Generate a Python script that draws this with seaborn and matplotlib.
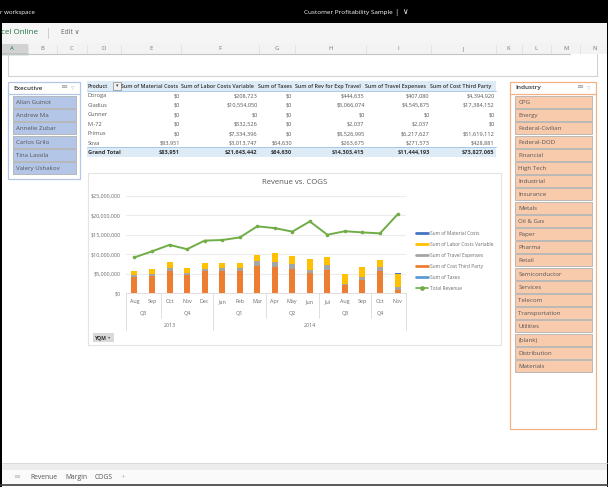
import pandas as pd
import numpy as np
from matplotlib import pyplot as plt
from matplotlib.lines import Line2D
import seaborn as sns

sns.set_theme(style='white')
plt.rcParams['font.family'] = ['Open Sans', 'DejaVu Sans']

plt.figure(figsize=(6.08, 4.87), dpi=100)

# page behind the chart, in screen pixels
page = plt.axes([0, 0, 1, 1])
page.set_xlim(0, 608)
page.set_ylim(487, 0)
page.axis('off')

def box(x0, y0, x1, y1, color, edge='none', lw=0.6):
    page.add_patch(plt.Rectangle((x0, y0), x1 - x0, y1 - y0, facecolor=color, edgecolor=edge, linewidth=lw))

def slicer(x0, x1, y1, title, names, color, edge):
    box(x0, 81.5, x1, y1, 'white', edge, 0.9)
    page.plot([x0, x1], [94, 94], color=edge, lw=0.9)
    plt.text(x0 + 5, 88, title, size=4.6, weight='semibold', color='#333333', va='center')
    plt.text(x1 - 20, 88, '≡', size=6, color='#999999', va='center')
    plt.text(x1 - 9, 88, '▿', size=5, color='#c8c8c8', va='center')
    for i, name in enumerate(names):
        box(x0 + 5, 96 + i * 13.2, x1 - 4.5, 108 + i * 13.2, color, '#b0b0b0', 0.6)
        plt.text(x0 + 8, 102.5 + i * 13.2, name, size=4.4, color='#555555', va='center')

box(0, 0, 608, 23, 'black')
plt.text(0, 12.5, 'r workspace', size=4.4, color='white', va='center')
plt.text(304, 12.5, 'Customer Profitability Sample', size=4.55, color='white', va='center')
plt.text(394, 12.5, '|', size=5.5, color='white', va='center')
plt.text(405, 12.5, '∨', size=5.5, color='white', va='center', ha='center')
box(0, 23, 608, 43, '#f5f5f5')
plt.text(1, 33, 'cel Online', size=5.8, color='#217346', va='center')
page.plot([48, 48], [28, 38], color='#cccccc', lw=0.7)
plt.text(61, 33, 'Edit ∨', size=4.8, color='#666666', va='center')

# column letters
box(0, 43, 608, 53.5, '#f3f3f3')
box(2, 44, 28, 53.5, '#d2d2d2')
page.plot([2, 28], [53.5, 53.5], color='#217346', lw=0.9)
letters = {'A': 12, 'B': 42, 'C': 72, 'D': 104, 'E': 151, 'F': 220, 'G': 277, 'H': 331, 'I': 398, 'J': 463, 'K': 508, 'L': 536, 'M': 566, 'N': 595}
for letter, x in letters.items():
    plt.text(x, 48.7, letter, size=4.2, color='#217346' if letter == 'A' else '#777777', ha='center', va='center')
for x in [28, 57, 87, 121, 181, 259, 295, 366, 431, 496, 522, 551, 580]:
    page.plot([x, x], [45, 53], color='#dddddd', lw=0.5)
page.plot([2, 570], [54, 54], color='#c4c4c4', lw=0.8)

# the empty box under the headers
page.plot([8, 8, 597, 597], [54, 75.5, 75.5, 54], color='#d4d4d4', lw=0.8)

slicer(8, 80, 179, 'Executive', ['Allan Guinot', 'Andrew Ma', 'Annelie Zubar', 'Carlos Grilo', 'Tina Lassila', 'Valery Ushakov'], '#b4c6e7', '#b4c6e7')
slicer(510.3, 596.3, 429, 'Industry', ['CPG', 'Energy', 'Federal-Civilian', 'Federal-DOD', 'Financial', 'High Tech', 'Industrial', 'Insurance', 'Metals', 'Oil & Gas', 'Paper', 'Pharma', 'Retail', 'Semiconductor', 'Services', 'Telecom', 'Transportation', 'Utilities', '(blank)', 'Distribution', 'Materials'], '#f8cbad', '#f4b183')

# pivot table
table = pd.DataFrame({
    'Product': ['Doroga', 'Gladius', 'Gunner', 'Mi-72', 'Primus', 'Sova', 'Grand Total'],
    'Sum of Material Costs': ['$0', '$0', '$0', '$0', '$0', '$83,951', '$83,951'],
    'Sum of Labor Costs Variable': ['$208,723', '$10,554,050', '$0', '$532,526', '$7,334,396', '$3,013,747', '$21,643,442'],
    'Sum of Taxes': ['$0', '$0', '$0', '$0', '$0', '$64,630', '$64,630'],
    'Sum of Rev for Exp Travel': ['$444,635', '$5,066,074', '$0', '$2,037', '$8,526,995', '$263,675', '$14,303,415'],
    'Sum of Travel Expenses': ['$407,080', '$4,545,875', '$0', '$2,037', '$6,217,627', '$271,573', '$11,444,193'],
    'Sum of Cost Third Party': ['$4,394,920', '$17,384,152', '$0', '$0', '$51,619,112', '$428,881', '$73,827,065'],
})
right_head = [178.6, 254, 292, 361.3, 426.3, 491.7]
right_vals = [180, 257.7, 292, 364.7, 429.7, 494.7]
rows = [95.7, 105.2, 114.6, 124.2, 133.8, 143.4, 152.3]

box(87, 81, 495.7, 91, '#ddebf7')
page.plot([87, 495.7], [91, 91], color='#9dc3e6', lw=0.6)
box(87, 146.7, 495.7, 156.5, '#ddebf7')
page.plot([87, 495.7], [146.7, 146.7], color='#9dc3e6', lw=0.6)
plt.text(88, 86.3, 'Product', size=3.85, weight='semibold', color='#333333', va='center')
box(113, 82, 120.5, 90, '#f2f2f2', '#8c8c8c', 0.5)
plt.text(116.8, 86, '▾', size=3.6, color='#444444', ha='center', va='center')
for c, col in enumerate(table.columns[1:]):
    plt.text(right_head[c], 86.3, col, size=3.85, weight='semibold', color='#333333', ha='right', va='center')
for r, y in enumerate(rows):
    total = table['Product'][r] == 'Grand Total'
    plt.text(88, y, table['Product'][r], size=4.1, color='#333333' if total else '#555555', weight='bold' if total else 'normal', va='center')
    for c, col in enumerate(table.columns[1:]):
        plt.text(right_vals[c], y, table[col][r], size=4.1, color='#333333' if total else '#555555', weight='bold' if total else 'normal', ha='right', va='center')

# chart frame
box(88, 172.5, 501, 345, 'white', '#e4e4e4', 0.8)
plt.text(295, 183, 'Revenue vs. COGS', size=5.6, color='#595959', ha='center', va='center')
box(93, 333, 114, 342, '#d9d9d9')
plt.text(95, 337.5, 'YQM', size=3.7, weight='bold', color='#333333', va='center')
plt.text(109, 337.5, '▾', size=3.2, color='#555555', ha='center', va='center')

# bottom of the screen
box(2, 463, 607, 470, '#ececec')
page.plot([2, 607], [463, 463], color='#d6d6d6', lw=0.6)
box(2, 470, 607, 484, '#fafafa')
page.plot([0, 608], [484.5, 484.5], color='#3c3c3c', lw=1.2)
for name, x in [('Revenue', 30), ('Margin', 65), ('COGS', 95)]:
    plt.text(x, 477.5, name, size=4.9, color='#555555', va='center')
plt.text(123, 477.5, '+', size=6, color='#bbbbbb', ha='center', va='center')
plt.text(17, 477.5, '≡', size=6, color='#bbbbbb', ha='center', va='center')
box(0, 23, 2, 487, 'black')
box(607, 23, 608, 487, 'black')

# values, in millions
df = pd.DataFrame({
    'month': ['Aug', 'Sep', 'Oct', 'Nov', 'Dec', 'Jan', 'Feb', 'Mar', 'Apr', 'May', 'Jun', 'Jul', 'Aug', 'Sep', 'Oct', 'Nov'],
    'third': [4.1, 4.5, 5.7, 4.6, 5.7, 5.6, 5.6, 7.1, 6.7, 6.2, 5.1, 6.0, 2.0, 3.4, 5.7, 0.9],
    'taxes': [0, 0, 0, 0, 0, 0, 0, 0, 0, 0, 0, 0, 0, 0, 0, 0.065],
    'travel': [0.5, 0.5, 0.9, 0.7, 0.6, 0.8, 1.0, 1.2, 1.4, 1.3, 0.9, 1.3, 0.4, 0.8, 1.0, 0.55],
    'labor': [1.0, 1.2, 1.4, 1.2, 1.4, 1.4, 1.1, 1.6, 2.1, 2.0, 2.7, 1.9, 2.5, 2.45, 1.9, 3.5],
    'material': [0, 0, 0, 0, 0, 0, 0, 0, 0, 0, 0, 0, 0, 0, 0, 0.084],
    'revenue': [9.2, 10.75, 12.4, 11.3, 13.5, 13.65, 14.3, 17.15, 16.7, 15.8, 18.4, 15.0, 15.9, 15.6, 15.35, 20.2],
})
df['pos'] = df.index
layers = ['third', 'taxes', 'travel', 'labor', 'material']
colors = {'third': '#ed7d31', 'taxes': '#5b9bd5', 'travel': '#a5a5a5', 'labor': '#ffc000', 'material': '#4472c4'}
tops = df[layers].cumsum(axis=1) * 1e6

chart = plt.axes([125.7 / 608, 1 - 293.3 / 487, 280.6 / 608, 97.6 / 487])
chart.patch.set_alpha(0)
# tallest layer first, each shorter one paints over it
for layer in layers[::-1]:
    sns.barplot(x=df['pos'], y=tops[layer], color=colors[layer], width=0.34, saturation=1, linewidth=0, ax=chart)
sns.lineplot(x=df['pos'], y=df['revenue'] * 1e6, color='#70ad47', lw=1.4, marker='o', markersize=2.6, markeredgewidth=0, ax=chart)

plt.xlim(-0.5, 15.5)
plt.ylim(0, 25e6)
plt.xlabel('')
plt.ylabel('')
plt.yticks(np.arange(0, 26e6, 5e6), ['$%s' % format(int(v), ',') for v in np.arange(0, 26e6, 5e6)], size=3.9, color='#6b6b6b')
plt.xticks(df['pos'], df['month'], size=3.9, color='#6b6b6b')
plt.tick_params(axis='y', length=0, pad=3.4)
plt.tick_params(axis='x', length=0, pad=4.2)
plt.grid(axis='y', color='#ececec', lw=0.8)
chart.set_axisbelow(True)
sns.despine(left=True, top=True, right=True)
chart.spines['bottom'].set_color('#d9d9d9')
chart.spines['bottom'].set_linewidth(0.6)

# quarter and year rows of the axis
trans = chart.get_xaxis_transform()
quarters = [(0.5, 'Q3'), (3, 'Q4'), (6, 'Q1'), (9, 'Q2'), (12, 'Q3'), (14, 'Q4')]
for x, q in quarters:
    plt.text(x, -0.209, q, size=3.9, color='#6b6b6b', ha='center', va='center', transform=trans)
plt.text(2, -0.332, '2013', size=3.9, color='#6b6b6b', ha='center', va='center', transform=trans)
plt.text(10, -0.332, '2014', size=3.9, color='#6b6b6b', ha='center', va='center', transform=trans)
for x, y in [(-0.5, -0.376), (1.5, -0.253), (4.5, -0.376), (7.5, -0.253), (10.5, -0.253), (13.5, -0.253), (15.5, -0.376)]:
    plt.plot([x, x], [0, y], color='#d9d9d9', lw=0.6, transform=trans, clip_on=False)

handles = [
    Line2D([], [], color='#4472c4', lw=2, label='Sum of Material Costs'),
    Line2D([], [], color='#ffc000', lw=2, label='Sum of Labor Costs Variable'),
    Line2D([], [], color='#a5a5a5', lw=2, label='Sum of Travel Expenses'),
    Line2D([], [], color='#ed7d31', lw=2, label='Sum of Cost Third Party'),
    Line2D([], [], color='#5b9bd5', lw=2, label='Sum of Taxes'),
    Line2D([], [], color='#70ad47', lw=1.2, marker='o', markersize=2.4, label='Total Revenue'),
]
leg = plt.legend(handles=handles, loc='center left', bbox_to_anchor=(1.035, 0.333), frameon=False, fontsize=3.55,
                 handlelength=2.4, handletextpad=0.4, labelspacing=1.2, borderpad=0, borderaxespad=0)
for t in leg.get_texts():
    t.set_color('#6b6b6b')

plt.savefig('out.png', dpi=100)
